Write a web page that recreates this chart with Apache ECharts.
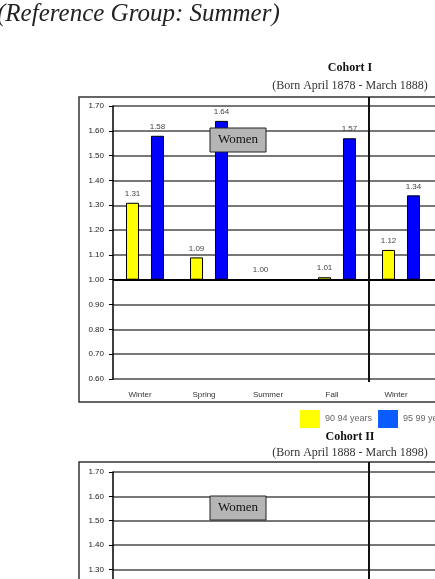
<!DOCTYPE html>
<html>
<head>
<meta charset="utf-8">
<script src="https://cdn.jsdelivr.net/npm/echarts@6/dist/echarts.min.js"></script>
<style>
html, body { margin: 0; padding: 0; overflow: hidden; background: #fff; }
#main { position: absolute; left: 0; top: 0; width: 520px; height: 760px; }
</style>
</head>
<body>
<div id="main"></div>
<script>
// seasons along the x axis (page is cropped on the right)
var seasons = ['Winter', 'Spring', 'Summer', 'Fall', 'Winter', 'Spring'];
var ageGroups = ['90 94 years', '95 99 years'];
var refSeason = 2; // Summer = 1.00

// relative risks, cohort I
var cohort1Age90 = [1.31, 1.09, 1.00, 1.01, 1.12, null];
var cohort1Age95 = [1.58, 1.64, 1.00, 1.57, 1.34, null];
// cohort II: nothing visible above 1.30 in the crop
var cohort2Age90 = [null, null, null, null, null, null];
var cohort2Age95 = [null, null, null, null, null, null];

var yMin = 0.6, yMax = 1.7, yStep = 0.1, base = 1.0;

var sans = 'Liberation Sans';
var serif = 'Liberation Serif';

function shift(arr) {
    return arr.map(function (v) { return v == null ? null : v - base; });
}

function barSeries(name, color, src, xi, yi, hideRef) {
    return {
        name: name,
        type: 'bar',
        xAxisIndex: xi,
        yAxisIndex: yi,
        barWidth: 13,
        barGap: '92%',
        itemStyle: { color: color, borderColor: '#000', borderWidth: 1 },
        label: {
            show: true,
            position: 'top',
            distance: 5,
            fontSize: 8,
            fontFamily: sans,
            color: '#444',
            formatter: function (p) {
                if (hideRef && p.dataIndex === refSeason) return '';
                var v = src[p.dataIndex];
                return v == null ? '' : v.toFixed(2);
            }
        },
        data: shift(src)
    };
}

function baseLine() {
    return {
        silent: true,
        symbol: 'none',
        label: { show: false },
        lineStyle: { color: '#000', width: 2, type: 'solid' },
        data: [{ yAxis: 0 }]
    };
}

function xAx(gi) {
    return {
        type: 'category',
        gridIndex: gi,
        data: seasons,
        axisLine: { show: false, onZero: false },
        axisTick: { show: false },
        axisLabel: { fontSize: 8, fontFamily: sans, color: '#333', margin: 12, padding: [0, 10, 0, 0] }
    };
}

function yAx(gi) {
    return {
        type: 'value',
        gridIndex: gi,
        min: yMin - base,
        max: yMax - base,
        interval: yStep,
        axisLine: { show: true, lineStyle: { color: '#000', width: 1.5 } },
        axisTick: { show: true, length: 4, lineStyle: { color: '#000', width: 1 } },
        axisLabel: {
            fontSize: 8, fontFamily: sans, color: '#222', margin: 9,
            formatter: function (v) { return (v + base).toFixed(2); }
        },
        splitLine: { lineStyle: { color: '#4a4a4a', width: 1.5 } }
    };
}

var s1 = barSeries(ageGroups[0], '#ffff00', cohort1Age90, 0, 0, false);
s1.markLine = baseLine();
var s2 = barSeries(ageGroups[1], '#0000ff', cohort1Age95, 0, 0, true);
var s3 = barSeries(ageGroups[0], '#ffff00', cohort2Age90, 1, 1, false);
s3.markLine = baseLine();
var s4 = barSeries(ageGroups[1], '#0000ff', cohort2Age95, 1, 1, true);

var chart = echarts.init(document.getElementById('main'));

var option = {
    backgroundColor: '#fff',
    animation: false,
    grid: [
        { left: 113, top: 106, width: 384, height: 273 },
        { left: 113, top: 472, width: 384, height: 273 }
    ],
    xAxis: [xAx(0), xAx(1)],
    yAxis: [yAx(0), yAx(1)],
    legend: {
        left: 295,
        top: 405,
        icon: 'rect',
        itemWidth: 20,
        itemHeight: 18,
        itemGap: 6,
        textStyle: { fontSize: 9, fontFamily: sans, color: '#666' },
        data: [
            { name: ageGroups[0], itemStyle: { color: '#ffff00', borderWidth: 0 } },
            { name: ageGroups[1], itemStyle: { color: '#0a5cff', borderWidth: 0 } }
        ]
    },
    series: [s1, s2, s3, s4]
};

chart.setOption(option);

// divider between Fall and the next Winter
var xa = chart.convertToPixel({ xAxisIndex: 0 }, 3);
var xb = chart.convertToPixel({ xAxisIndex: 0 }, 4);
var xDiv = (xa + xb) / 2;
var yBot1 = chart.convertToPixel({ yAxisIndex: 0 }, yMin - base) + 3;

function womenBox(y) {
    return {
        type: 'group',
        z: 50,
        children: [
            { type: 'rect', z: 50, shape: { x: 210, y: y, width: 56, height: 24 },
              style: { fill: '#b5b5b5', stroke: '#222', lineWidth: 1 } },
            { type: 'text', z: 51, x: 238, y: y + 12,
              style: { text: 'Women', font: '13px ' + serif, fill: '#111', align: 'center', verticalAlign: 'middle' } }
        ]
    };
}

chart.setOption({
    graphic: [
        { type: 'text', x: -3, y: 14,
          style: { text: '(Reference Group: Summer)', font: 'italic 25px ' + serif, fill: '#222', verticalAlign: 'middle' } },
        { type: 'text', x: 350, y: 68,
          style: { text: 'Cohort I', font: 'bold 12px ' + serif, fill: '#111', align: 'center', verticalAlign: 'middle' } },
        { type: 'text', x: 350, y: 86,
          style: { text: '(Born April 1878 - March 1888)', font: '12px ' + serif, fill: '#333', align: 'center', verticalAlign: 'middle' } },
        { type: 'text', x: 350, y: 437,
          style: { text: 'Cohort II', font: 'bold 12px ' + serif, fill: '#111', align: 'center', verticalAlign: 'middle' } },
        { type: 'text', x: 350, y: 453,
          style: { text: '(Born April 1888 - March 1898)', font: '12px ' + serif, fill: '#333', align: 'center', verticalAlign: 'middle' } },
        { type: 'rect', shape: { x: 79, y: 97, width: 600, height: 305 },
          style: { fill: 'none', stroke: '#333', lineWidth: 1.5 }, z: 10 },
        { type: 'rect', shape: { x: 79, y: 462, width: 600, height: 400 },
          style: { fill: 'none', stroke: '#333', lineWidth: 1.5 }, z: 10 },
        { type: 'line', shape: { x1: xDiv, y1: 97, x2: xDiv, y2: yBot1 },
          style: { stroke: '#111', lineWidth: 2 }, z: 10 },
        { type: 'line', shape: { x1: xDiv, y1: 462, x2: xDiv, y2: 760 },
          style: { stroke: '#111', lineWidth: 2 }, z: 10 },
        womenBox(128),
        womenBox(496)
    ]
});
</script>
</body>
</html>
